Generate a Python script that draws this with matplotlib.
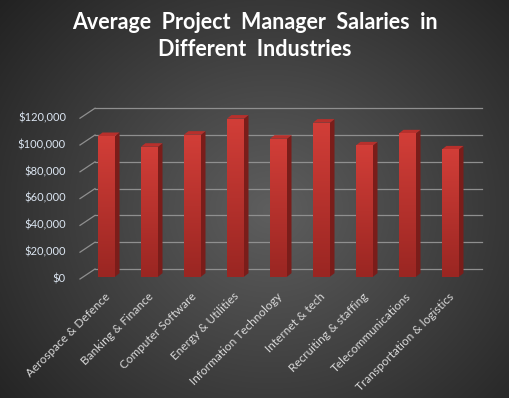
import numpy as np
import matplotlib
matplotlib.use('Agg')
import matplotlib.pyplot as plt
import matplotlib.transforms as mtrans
from matplotlib.patches import Polygon, Rectangle
from matplotlib.colors import LinearSegmentedColormap

industries = ['Aerospace & Defence', 'Banking & Finance', 'Computer Software',
              'Energy & Utilities', 'Information Technology', 'Internet & tech',
              'Recruiting & staffing', 'Telecommunications', 'Transportation & logistics']
salaries = [105000, 97000, 106000, 118000, 103000, 115000, 98000, 107000, 95000]
yticks = [0, 20000, 40000, 60000, 80000, 100000, 120000]

plt.rcParams['font.family'] = ['Lato', 'DejaVu Sans']

W, H = 510, 398
fig = plt.figure(figsize=(W / 100, H / 100), dpi=100)

# radial grey background
bg = fig.add_axes([0, 0, 1, 1])
yy, xx = np.mgrid[0:H, 0:W]
r = np.sqrt(((xx - 270) / 330.0) ** 2 + ((yy - 210) / 300.0) ** 2)
shade = np.clip(0.37 - 0.22 * r, 0.09, 0.37)
bg.imshow(np.dstack([shade] * 3), extent=[0, W, H, 0], aspect='auto')
bg.set_axis_off()

# plot area in pixels: x 85..472, bar base at y=276.7, 26.8 px per 20k
px_per_val = 26.8 / 20000
left, right, base, top = 85, 472, 276.7, 100
ax = fig.add_axes([left / W, 1 - base / H, (right - left) / W, (base - top) / H])
ax.set_axis_off()

def off(tr, dx, dy):
    return tr + mtrans.ScaledTranslation(dx / 100, -dy / 100, fig.dpi_scale_trans)

blend = mtrans.blended_transform_factory(ax.transAxes, ax.transData)
ax_w = right - left
for v in yticks:
    # back wall line and the short floor diagonal
    ax.plot([10 / ax_w, 397 / ax_w], [v, v], color='#8f8f8f', lw=0.9,
            transform=off(blend, 0, -7.7), clip_on=False)
    ax.plot([-5 / ax_w, 10 / ax_w], [v - 2.3 / px_per_val, v + 7.7 / px_per_val],
            color='#8f8f8f', lw=0.9, transform=blend, clip_on=False)
    ax.text(-19 / ax_w, v, '${:,.0f}'.format(v), transform=off(blend, 0, 2),
            ha='right', va='center', color='#dce6f2', fontsize=8)

# bars with a small depth
bw = 17 / 43.0
dx = 4.5 / 43.0
dy = 3.5 / px_per_val
grad = np.linspace(0, 1, 100).reshape(-1, 1)
cmap = LinearSegmentedColormap.from_list('red', ['#9a2622', '#d23e38'])
for i, v in enumerate(salaries):
    x0, x1 = i - bw / 2, i + bw / 2
    side = Polygon([(x1, 0), (x1 + dx, dy), (x1 + dx, v + dy), (x1, v)],
                   closed=True, facecolor='#7a1d1a', edgecolor='none', zorder=3)
    cap = Polygon([(x0, v), (x0 + dx, v + dy), (x1 + dx, v + dy), (x1, v)],
                  closed=True, facecolor='#b8302c', edgecolor='none', zorder=3)
    ax.add_patch(side)
    ax.add_patch(cap)
    front = Rectangle((x0, 0), bw, v, facecolor='none', edgecolor='none', zorder=4)
    ax.add_patch(front)
    im = ax.imshow(grad, extent=[x0, x1, 0, v], origin='lower', cmap=cmap,
                   aspect='auto', zorder=4)
    im.set_clip_path(front)
    ax.text(i - 0.05, 0, industries[i], rotation=45, ha='right', va='top',
            rotation_mode='anchor', color='#d9d9d9', fontsize=8.5,
            transform=off(ax.transData, 0, 14))

ax.set_xlim(-0.5, 8.5)
ax.set_ylim(0, (base - top) / px_per_val)

fig.text(0.5, 1 - 36 / H, 'Average  Project  Manager  Salaries  in\nDifferent  Industries',
         ha='center', va='center', color='white', fontsize=15.5, fontweight='bold',
         linespacing=1.4)

fig.savefig('out.png', dpi=100)
